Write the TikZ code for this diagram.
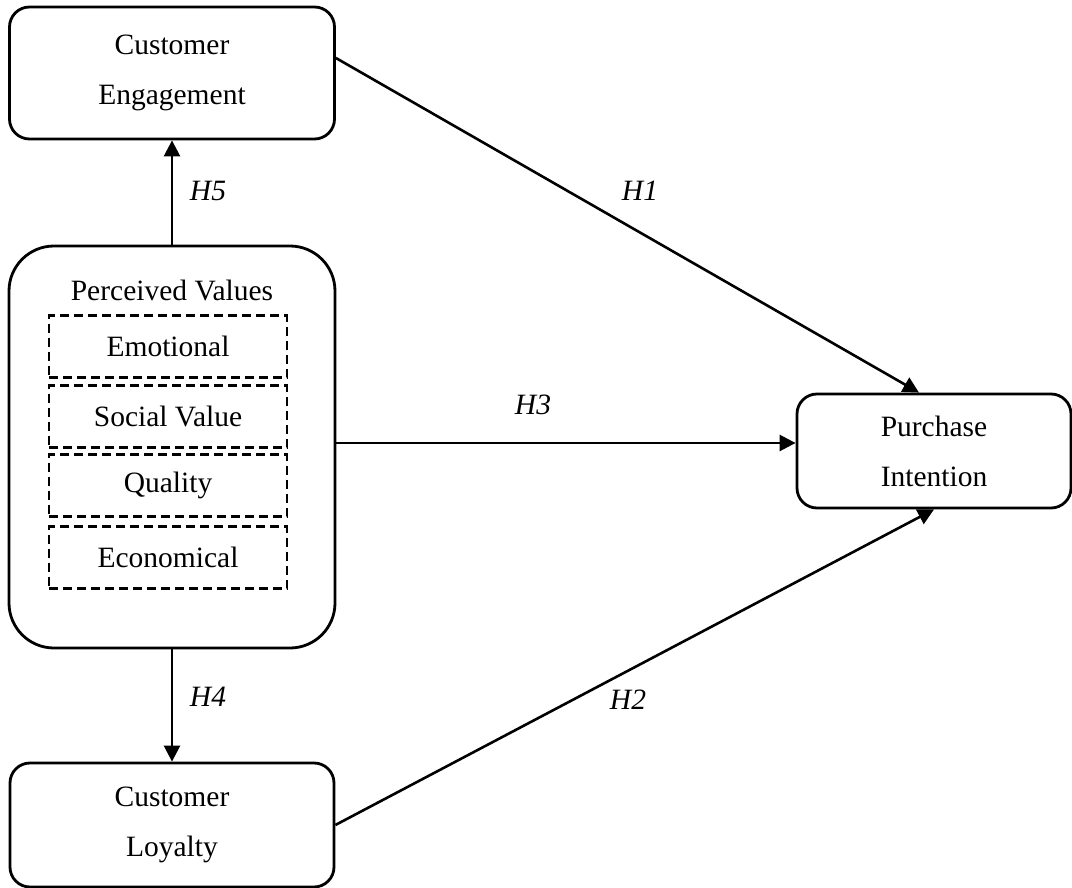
\documentclass[tikz,border=0pt]{standalone}
\usepackage{fontspec}
\setmainfont{Liberation Serif}
\usetikzlibrary{arrows.meta}
\tikzstyle{cv}=[shape=rectangle,
                draw=black,
                line width=2.8pt,
                rounded corners=20pt,
                align=center,
                font=\fontsize{29.5}{50}\selectfont]
\tikzstyle{dv}=[shape=rectangle,
                draw=black,
                line width=2.6pt,
                dash pattern=on 9pt off 5pt,
                minimum width=238pt,
                minimum height=62pt,
                font=\fontsize{29.5}{35}\selectfont]
\tikzstyle{hyp}=[font=\fontsize{29.5}{35}\selectfont\itshape]

\begin{document}
\begin{tikzpicture}[x=1pt,y=-1pt,>={Triangle[length=16pt,width=16pt]},line width=2.6pt]
\useasboundingbox (0,0) rectangle (1072,888);

% constructs
\node[cv,minimum width=325pt,minimum height=132pt] (ce) at (172,73)  {Customer\\Engagement};
\node[cv,minimum width=326pt,minimum height=402pt,rounded corners=45pt] (pv) at (172,447) {};
\node[cv,minimum width=324pt,minimum height=124pt] (cl) at (172,825) {Customer\\Loyalty};
\node[cv,minimum width=274pt,minimum height=114pt] (pi) at (934,451) {Purchase\\Intention};

% dimensions of perceived values
\node[anchor=base,font=\fontsize{29.5}{35}\selectfont] (pvtitle) at (172,300) {Perceived Values};
\node[dv] (emo) at (168,346.5)      {Emotional};
\node[dv,node distance=70pt] (soc) [below of=emo] {Social Value};
\node[dv,node distance=69pt] (qua) [below of=soc] {Quality};
\node[dv,node distance=72pt] (eco) [below of=qua] {Economical};

% hypothesis labels
\node[hyp] (h1) at (640,191) {H1};
\node[hyp] (h2) at (628,700) {H2};
\node[hyp] (h3) at (533,405) {H3};
\node[hyp] (h4) at (208,697) {H4};
\node[hyp] (h5) at (208,191) {H5};

% paths
\coordinate (h3in) at ([yshift=8pt]pi.west);
\path[->] (pv.north) edge (ce.south)
          (pv.south) edge (cl.north)
          (h3in -| pv.east) edge (h3in)
          ([yshift=15pt]ce.east) edge ([xshift=-15pt]pi.north)
          (cl.east) edge (pi.south);
\end{tikzpicture}
\end{document}
